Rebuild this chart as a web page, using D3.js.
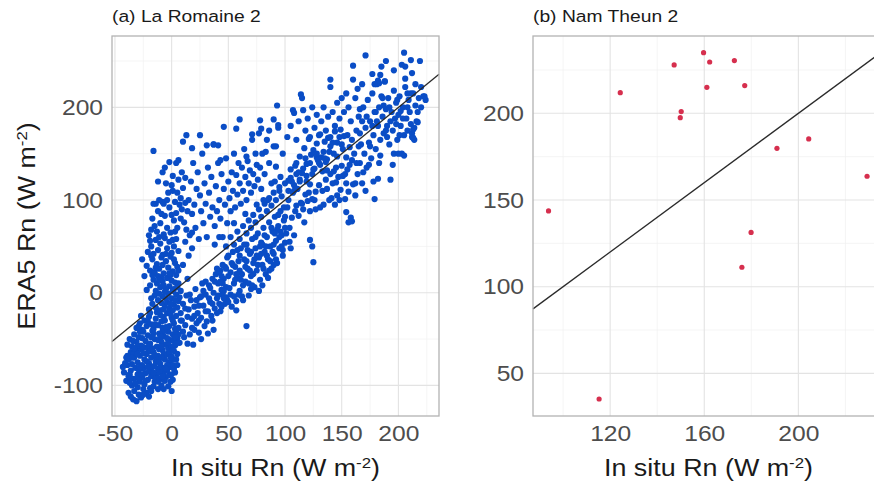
<!DOCTYPE html>
<html>
<head>
<meta charset="utf-8">
<script src="https://cdn.jsdelivr.net/npm/d3@7"></script>
<style>
	body { margin: 0; background: #fff; }
	svg { display: block; font-family: 'Liberation Sans', Arial, sans-serif; }
	.tick text { fill: #4d4d4d; }
</style>
</head>
<body>
<div id="chart"></div>
<script>
// La Romaine 2 -- in situ vs ERA5 Rn in chunks
const romaineBlob = [
	[-34,-115],[-36,-112],[-31,-117],[-29,-110],[-33,-106],[-38,-108],[-25,-104],[-27,-113],[-22,-108],[-19,-103],
	[-30,-102],[-35,-100],[-24,-99],[-16,-101],[-12,-104],[-9,-100],[0,-106],[-3,-101],[-1,-96],[-20,-112],
	[-40,-95],[-38,-90],[-42,-86],[-36,-84],[-33,-93],[-30,-88],[-28,-96],[-26,-91],[-23,-87],[-21,-94],
	[-18,-90],[-15,-96],[-13,-88],[-10,-93],[-7,-86],[-5,-91],[-2,-89],[1,-94],[3,-86],[-32,-81],
	[-29,-83],[-25,-82],[-19,-84],[-17,-80],[-12,-82],[-8,-81],[-4,-84],[-1,-80],[2,-82],[-37,-97],[-43,-80],[-39,-78],
	[-41,-76],[-38,-72],[-35,-77],[-33,-70],[-30,-75],[-28,-68],[-26,-78],[-24,-72],[-22,-66],[-20,-76],
	[-18,-70],[-16,-64],[-14,-74],[-12,-68],[-10,-77],[-8,-62],[-6,-72],[-4,-66],[-2,-75],[0,-69],
	[2,-63],[4,-72],[-36,-64],[-31,-62],[-27,-61],[-21,-60],[-15,-79],[-11,-61],[-7,-67],[-3,-60],
	[1,-78],[5,-66],[-39,-68],[-34,-66],[-25,-65],[-19,-63],[-13,-71],[-9,-70],
	[-39,-56],[-37,-50],[-35,-58],[-33,-45],[-31,-53],[-29,-48],[-27,-57],[-25,-42],[-23,-52],[-21,-46],
	[-19,-55],[-17,-41],[-15,-50],[-13,-58],[-11,-44],[-9,-53],[-7,-47],[-5,-56],[-3,-42],[-1,-51],
	[1,-45],[3,-57],[5,-49],[7,-54],[-34,-52],[-28,-42],[-24,-59],[-18,-48],[-12,-51],[-8,-42],
	[-4,-49],[0,-58],[4,-43],[-20,-57],[-16,-44],[-6,-41],[2,-52],[-26,-49],[-30,-57],[-10,-47],
	[-31,-38],[-28,-33],[-26,-40],[-24,-30],[-22,-36],[-20,-26],[-18,-34],[-16,-39],[-14,-28],[-12,-35],
	[-10,-24],[-8,-38],[-6,-30],[-4,-22],[-2,-36],[0,-27],[2,-33],[4,-25],[6,-38],[8,-30],
	[-19,-22],[-13,-21],[-9,-31],[-5,-37],[-1,-23],[3,-39],[-21,-31],[-15,-34],[-7,-26],[1,-30],[-27,-25],[-29,-36],
	[-37,-88],[-35,-70],[-32,-98],[-30,-66],[-28,-80],[-26,-58],[-23,-95],[-22,-74],[-20,-85],[-17,-60],
	[-14,-92],[-11,-86],[-9,-58],[-6,-95],[-4,-78],[-2,-64],[0,-88],[2,-72],[4,-55],[6,-45],
	[-33,-60],[-29,-92],[-25,-110],[-18,-106],[-15,-67],[-11,-75],[-7,-104],[-5,-82],[-3,-54],[1,-62],
	[3,-48],[-36,-92],[-40,-70],[-27,-88],[-21,-80],[-16,-86],[-12,-96],[-8,-90],[-1,-70],[5,-78]
];

const romaineColumn = [
	[-20,-18],[-17,-12],[-14,-16],[-12,-8],[-10,-19],[-8,-4],[-6,-14],[-4,-10],[-2,-17],[0,-6],
	[2,-13],[4,-2],[6,-9],[-15,-3],[-11,-1],[-7,-18],[-3,-1],[1,-19],[5,-16],[7,-5],
	[-18,-6],[-9,-11],[-5,-6],[-1,-12],[3,-8],
	[-22,3],[-19,8],[-16,14],[-14,2],[-12,18],[-10,6],[-8,12],[-6,1],[-4,16],[-2,7],
	[0,13],[2,4],[4,19],[6,10],[8,2],[-17,19],[-13,10],[-9,17],[-5,4],[-1,19],[3,11],[-11,14],[-7,8],[1,2],[5,6],
	[-22,29],[-19,24],[-17,36],[-15,22],[-13,31],[-11,26],[-9,38],[-7,21],[-5,34],[-3,27],
	[-1,39],[1,23],[3,32],[5,28],[-18,40],[-14,27],[-8,30],[-2,21],[2,36],[6,24],
	[-21,44],[-18,50],[-16,42],[-14,57],[-12,46],[-10,53],[-8,41],[-6,59],[-4,48],[-2,55],
	[0,43],[2,50],[4,58],[6,45],[-19,56],[-11,60],[-5,42],[1,57],
	[-17,80],[-15,72],[-13,66],[-12,88],[-10,75],[-8,98],[-7,63],[-6,83],[-4,70],[-3,108],
	[-2,92],[-1,65],[0,116],[1,110],[2,78],[3,98],[4,86],[5,70],[6,122],[7,95],
	[8,102],[9,90],[10,113],[11,76],[12,97],[14,88],[-14,96],[-9,85],[-5,118],[0,84],
	[4,140],[-2,141],[6,143],[-16,153],[-7,96],[3,66],[13,68],[-11,100],[1,126],[9,130],[-18,68],[-4,100],
	[15,40],[12,55],[18,65],[10,30],[14,15],[18,48],[-24,18],[-26,36],[-20,62],[-16,96],
	[-12,120],[-8,130],[5,108],[12,124],[-6,135],[8,80],[38,52],[42,60]
];

const romaineBand = [
	[8,-22],[10,-12],[12,-35],[13,-3],[15,-18],[16,-45],[17,-8],[18,-28],[19,-56],[20,-15],
	[21,4],[22,-33],[23,-22],[24,-43],[25,-5],[26,-27],[27,10],[28,-14],[29,-36],[30,-2],
	[31,-31],[32,-20],[33,8],[34,-10],[35,-25],[36,15],[37,0],[38,-17],[39,20],[40,-6],
	[41,10],[42,-12],[43,24],[44,3],[45,-2],[46,15],[47,28],[48,6],[49,-8],[50,18],
	[9,-30],[11,-48],[14,-26],[16,-2],[20,-40],[22,-8],[24,-30],[26,-50],[28,2],[30,-20],
	[32,-44],[34,5],[36,-12],[38,12],[40,-22],[42,22],[44,-15],[46,2],[48,-5],[12,-17],
	[18,-38],[24,-14],[30,12],[36,-30],[14,-55],[10,-42],[40,26],[20,-25],[26,-4],[33,-6],
	[37,-40],[43,-20],[45,10],[66,-36],[57,-19],
	[41,-3],[43,12],[45,30],[47,-12],[49,38],[51,5],[52,22],[53,-15],[54,44],[55,10],
	[56,28],[57,-9],[58,16],[59,34],[60,2],[61,48],[62,20],[63,-8],[64,36],[65,12],
	[66,52],[67,26],[68,-3],[69,42],[70,18],[71,58],[72,32],[73,6],[74,48],[75,24],
	[76,64],[77,38],[78,14],[79,54],[80,30],[81,70],[82,44],[83,20],[84,60],[85,36],
	[86,76],[87,50],[88,26],[89,66],[90,42],[91,82],[92,56],[93,32],[94,72],[95,48],
	[96,88],[97,62],[98,40],[99,78],[100,54],
	[44,18],[46,-6],[48,26],[50,40],[52,-2],[54,30],[56,14],[58,46],[60,24],[62,-4],
	[64,52],[66,34],[68,10],[70,44],[72,20],[74,60],[76,30],[78,50],[80,8],[82,62],
	[84,40],[86,24],[88,70],[90,52],[92,36],[94,84],[96,66],[98,46],[50,-10],[55,-4],
	[60,40],[65,28],[70,4],[75,40],[80,52],[85,16],[90,30],[95,60],[100,70],[57,20],
	[63,8],[67,46],[73,36],[77,2],[83,50],[87,34],[93,68],[97,50],[53,32],[59,-2],
	[61,14],[69,24],[71,8],[79,42],[81,26],[89,44],[91,64],[99,92],
	[48,50],[52,60],[55,52],[58,66],[60,58],[63,72],[66,64],[68,78],[70,70],[72,84],
	[74,76],[77,90],[79,82],[82,96],[84,88],[86,102],[88,94],[90,108],[92,100],[95,114],
	[97,104],[100,118],[103,110],[105,124],[108,116],[110,128],[113,120],[116,134],[119,126],[122,140],
	[125,133],[128,146],[131,138],[134,152],[137,144],[140,158],[143,150],[146,162],[150,160],[155,170],
	[101,64],[102,92],[103,121],[104,70],[105,133],[106,81],[107,108],[108,62],[109,137],[110,94],
	[111,112],[112,83],[113,147],[114,97],[115,129],[116,90],[117,156],[118,106],[119,139],[120,99],
	[121,166],[122,117],[123,149],[124,101],[125,154],[126,134],[127,109],[128,161],[129,143],[130,116],
	[131,171],[132,146],[133,131],[134,95],[135,163],[136,141],[137,112],[138,167],[139,152],[140,128],
	[141,102],[142,162],[143,131],[144,174],[145,119],[146,147],[147,125],[148,168],[149,111],[150,137],
	[151,126],[152,169],[153,101],[154,146],[155,133],[156,109],[157,157],[158,81],[159,143],[160,117],
	[100,82],[103,100],[106,120],[109,88],[112,130],[115,96],[118,145],[121,108],[124,128],[127,90],
	[130,140],[133,110],[136,122],[139,100],[142,118],[145,135],[148,100],[151,155],[154,118],[157,138],
	[104,55],[108,110],[113,122],[117,76],[122,88],[126,100],[131,92],[135,145],[140,168],[144,95],
	[149,176],[153,128],[156,76],[159,165],[105,48],[110,140],[119,120],[128,150],[137,132],[146,105],
	[154,87],[159,77],[125,33],[124,50],[122,57],
	[161,150],[162,105],[163,175],[164,128],[165,190],[166,140],[167,160],[168,118],[169,200],[170,150],
	[171,178],[172,135],[173,208],[174,162],[175,185],[176,145],[177,215],[178,170],[179,195],[180,155],
	[181,225],[182,180],[183,200],[184,165],[185,212],[186,190],[187,172],[188,228],[189,198],[190,180],
	[191,210],[192,160],[193,122],[194,195],[195,175],[196,218],[197,188],[198,205],[199,165],[200,192],
	[201,212],[202,180],[203,150],[204,200],[205,148],[206,222],[207,188],[208,175],[209,208],[210,195],
	[211,182],[212,172],[213,215],[214,165],[215,202],[216,185],[218,210],[220,200],[222,212],[224,208],
	[163,140],[166,172],[169,130],[172,190],[175,158],[178,120],[181,185],[184,148],[187,202],[190,168],
	[193,185],[196,150],[199,208],[202,196],[205,170],[208,200],[211,215],[214,178],[217,195],[162,118],
	[165,158],[168,185],[171,110],[174,138],[177,180],[180,195],[183,140],[186,210],[189,175],[192,200],
	[195,138],[198,182],[201,170],[204,188],[179,101],[182,123],[200,150],[212,168],[213,176]
];

const romaineUpper = [
	[15,100],[16,62],[17,120],[18,85],[19,140],[20,95],[21,70],[22,112],[23,130],[24,58],
	[25,105],[26,88],[27,150],[28,75],[29,118],[30,96],[31,60],[32,135],[33,108],[34,82],
	[35,125],[36,92],[37,160],[38,72],[39,115],[40,88],[41,140],[42,100],[43,80],[44,128],
	[45,60],[46,112],[47,95],[48,145],[49,75],[50,120],[51,102],[52,88],[53,130],[54,110],
	[55,150],[56,92],[57,127],[58,106],[59,140],[60,118],[61,96],[62,135],[63,110],[64,155],
	[65,125],[66,100],[67,142],[68,118],[69,132],[70,108],[71,165],[72,128],[73,115],[74,150],
	[75,138],[76,122],[77,172],[78,135],[79,112],[80,150],[82,128],[84,165],[86,140],[88,118],
	[90,158],[92,136],[94,178],[96,125],[98,150],[85,100],[75,95],[65,85],[55,75],[95,110],[91,120],[81,100],
	[13,170],[10,163],[18,156],[25,170],[31,159],[37,160],[41,159],[43,143],[46,179],[60,187],
	[57,177],[66,147],[71,171],[78,186],[79,177],[83,152],[86,175],[90,187],[94,181],[93,202],[92,158],
	[102,168],[105,180],[107,197],[108,194],[110,165],[112,185],[114,214],[115,210],[116,197],[118,175],
	[120,188],[122,168],[124,200],[126,178],[128,192],[130,170],[132,185],[134,200],[136,175],[138,190],
	[140,230],[140,222],[142,195],[144,180],[146,205],[148,188],[150,210],[152,195],[154,215],[156,200],
	[158,185],[160,245],[160,230],[162,210],[164,220],[166,198],[168,225],[171,256],[177,236],[182,229],
	[185,244],[189,250],[184,235],[188,228],[183,226],[179,225],[205,259],[206,244],[211,251],[219,250],
	[203,246],[212,237],[206,231],[196,240],[215,225],[223,212],[217,184],[213,167],[220,222],[208,215]
];

// Nam Theun 2
const namTheun = [
	[93.8,143.7],[115.3,35.2],[124.3,211.9],[147.2,227.9],[149.8,197.5],[150.2,201.0],[159.7,235.0],[162.3,229.6],
	[161.1,215.0],[172.8,230.4],[177.2,216.0],[176.0,111.2],[179.9,131.3],[190.9,179.8],[204.4,185.2],[229.2,163.7]
];

const romaineXTicks = [-50, 0, 50, 100, 150, 200];
const romaineXMinor = [-25, 25, 75, 125, 175, 225];
const romaineYTicks = [-100, 0, 100, 200];
const romaineYMinor = [-50, 50, 150, 250];
const namXTicks = [120, 160, 200];
const namXMinor = [100, 140, 180, 220];
const namYTicks = [50, 100, 150, 200];
const namYMinor = [75, 125, 175, 225];

const width = 874;
const height = 485;
// the source figure's lettering runs a bit wider than Liberation Sans
const stretch = 1.12;

const $svg = d3.select('#chart').append('svg')
	.attr('width', width)
	.attr('height', height);

function unitTitle($t, label) {
	$t.append('tspan').text(label + ' (W m');
	$t.append('tspan').attr('baseline-shift', 'super').attr('font-size', 15).text('-2');
	$t.append('tspan').text(')');
}

function drawPanel(opts) {
	const { left, right, top, bottom } = opts;

	const scaleX = d3.scaleLinear().domain(opts.xDomain).range([left, right]);
	const scaleY = d3.scaleLinear().domain(opts.yDomain).range([bottom, top]);

	const $g = $svg.append('g');

	// grid, minor first then major
	const $grid = $g.append('g').attr('class', 'g-grid');
	$grid.selectAll('.minor-x').data(opts.xMinor).join('line')
		.attr('x1', d => scaleX(d)).attr('x2', d => scaleX(d))
		.attr('y1', top).attr('y2', bottom)
		.attr('stroke', '#f0f0f0').attr('stroke-width', 0.7);
	$grid.selectAll('.minor-y').data(opts.yMinor).join('line')
		.attr('y1', d => scaleY(d)).attr('y2', d => scaleY(d))
		.attr('x1', left).attr('x2', right)
		.attr('stroke', '#f0f0f0').attr('stroke-width', 0.7);
	$grid.selectAll('.major-x').data(opts.xTicks).join('line')
		.attr('x1', d => scaleX(d)).attr('x2', d => scaleX(d))
		.attr('y1', top).attr('y2', bottom)
		.attr('stroke', '#e3e3e3').attr('stroke-width', 1.1);
	$grid.selectAll('.major-y').data(opts.yTicks).join('line')
		.attr('y1', d => scaleY(d)).attr('y2', d => scaleY(d))
		.attr('x1', left).attr('x2', right)
		.attr('stroke', '#e3e3e3').attr('stroke-width', 1.1);

	// points
	$g.append('g').attr('class', 'g-vis')
		.selectAll('circle').data(opts.points).join('circle')
		.attr('cx', d => scaleX(d[0]))
		.attr('cy', d => scaleY(d[1]))
		.attr('r', opts.radius)
		.attr('fill', opts.color);

	// 1:1 line clipped to the panel
	const lo = Math.max(opts.xDomain[0], opts.yDomain[0]);
	const hi = Math.min(opts.xDomain[1], opts.yDomain[1]);
	$g.append('line')
		.attr('x1', scaleX(lo)).attr('y1', scaleY(lo))
		.attr('x2', scaleX(hi)).attr('y2', scaleY(hi))
		.attr('stroke', '#2b2b2b').attr('stroke-width', 1.3);

	// border
	$g.append('rect')
		.attr('x', left).attr('y', top)
		.attr('width', right - left).attr('height', bottom - top)
		.attr('fill', 'none').attr('stroke', '#b3b3b3').attr('stroke-width', 1.3);

	// axes, no tick marks like the reference; plain hyphen for negatives
	const $xAxis = $g.append('g')
		.attr('transform', `translate(0, ${bottom})`)
		.call(d3.axisBottom(scaleX).tickValues(opts.xTicks).tickFormat(d => String(d)).tickSize(0).tickPadding(9));
	const $yAxis = $g.append('g')
		.attr('transform', `translate(${left}, 0)`)
		.call(d3.axisLeft(scaleY).tickValues(opts.yTicks).tickFormat(d => String(d)).tickSize(0).tickPadding(8));
	[$xAxis, $yAxis].forEach($a => {
		$a.attr('font-family', null).attr('font-size', null);
		$a.select('.domain').remove();
		$a.selectAll('text')
			.attr('font-size', 22)
			.attr('transform', `scale(${stretch}, 1)`);
	});

	// panel title
	$g.append('text')
		.attr('transform', `translate(${left}, 22) scale(${stretch}, 1)`)
		.attr('font-size', 17.2)
		.attr('fill', '#1a1a1a')
		.text(opts.title);

	// x title
	const $xt = $g.append('text')
		.attr('transform', `translate(${(left + right) / 2}, 476) scale(${stretch}, 1)`)
		.attr('text-anchor', 'middle')
		.attr('font-size', 24)
		.attr('fill', '#1a1a1a');
	unitTitle($xt, 'In situ Rn');

	if (opts.yTitle) {
		const $yt = $g.append('text')
			.attr('transform', `translate(35, ${(top + bottom) / 2}) rotate(-90) scale(${stretch}, 1)`)
			.attr('text-anchor', 'middle')
			.attr('font-size', 24)
			.attr('fill', '#1a1a1a');
		unitTitle($yt, 'ERA5 Rn');
	}
}

drawPanel({
	title: '(a) La Romaine 2',
	left: 112, right: 439, top: 36, bottom: 416,
	xDomain: [-52.6, 235.8], yDomain: [-133, 277],
	xTicks: romaineXTicks, xMinor: romaineXMinor,
	yTicks: romaineYTicks, yMinor: romaineYMinor,
	points: romaineBlob.concat(romaineColumn, romaineBand, romaineUpper),
	color: '#0a4dc6', radius: 3.1, yTitle: true
});

drawPanel({
	title: '(b) Nam Theun 2',
	left: 533, right: 884, top: 36, bottom: 416,
	xDomain: [87.2, 236.4], yDomain: [25.4, 244.6],
	xTicks: namXTicks, xMinor: namXMinor,
	yTicks: namYTicks, yMinor: namYMinor,
	points: namTheun,
	color: '#d62f4e', radius: 2.6, yTitle: false
});
</script>
</body>
</html>
